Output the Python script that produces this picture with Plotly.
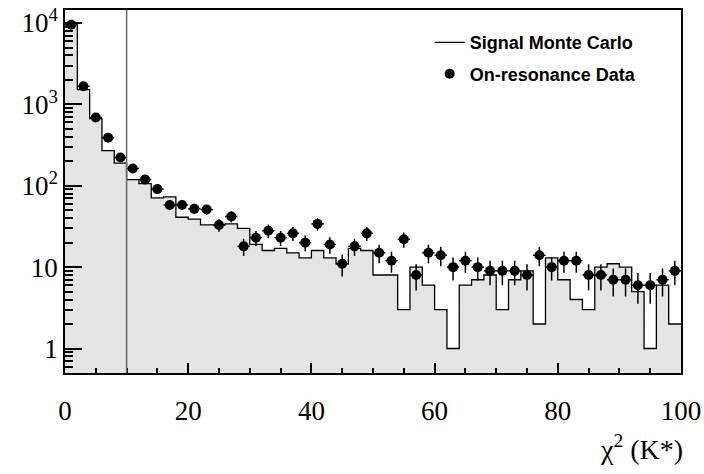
import numpy as np
import plotly.graph_objects as go

# chi^2(K*) histogram: 50 bins of width 2 from 0 to 100
bin_edges = list(range(0, 102, 2))
bin_centers = [e + 1 for e in bin_edges[:-1]]

# Signal Monte Carlo (normalised bin contents)
signal_mc = [9800, 1520, 670, 271, 190, 119, 106, 71, 73, 41,
             39, 33, 33, 34, 30, 19, 16, 17, 15, 13,
             16, 13, 11, 17, 16, 8, 8, 3, 10, 6,
             3, 1, 6, 7, 8, 3, 7, 9, 2, 13,
             7, 4, 3, 10, 11, 10, 5, 1, 6, 2]

# On-resonance data (event counts)
onres_data = [9500, 1670, 690, 390, 222, 163, 119, 91, 58, 58,
              52, 51, 33, 42, 18, 23, 28, 23, 26, 20,
              34, 19, 11, 18, 26, 15, 12, 22, 8, 15,
              14, 10, 12, 10, 9, 9, 9, 8, 14, 10,
              12, 12, 8, 8, 7, 7, 6, 6, 7, 9]

CUT_VALUE = 10

y_tickvals = [1, 10, 100, 1000, 10000]
y_ticktext = ["1", "10", "10<sup>2</sup>", "10<sup>3</sup>", "10<sup>4</sup>"]

Y_RANGE = [np.log10(0.5), 4.16]

data_err = [float(np.sqrt(v)) for v in onres_data]
step_y = signal_mc + [signal_mc[-1]]

fig = go.Figure()

# shaded MC histogram body
fig.add_trace(go.Bar(
    x=bin_centers, y=signal_mc, width=2,
    marker=dict(color="#e4e4e4", line=dict(width=0)),
    showlegend=False, hoverinfo="skip",
))

# MC histogram outline
fig.add_trace(go.Scatter(
    x=bin_edges, y=step_y, mode="lines",
    line=dict(shape="hv", color="black", width=1.3),
    name="Signal Monte Carlo", legendgroup="mc",
))

# data points with Poisson errors
fig.add_trace(go.Scatter(
    x=bin_centers, y=onres_data, mode="markers",
    marker=dict(color="black", size=10),
    error_y=dict(type="data", array=data_err, color="black", thickness=1.5, width=0),
    error_x=dict(type="constant", value=1, color="black", thickness=1.5, width=0),
    name="On-resonance Data", legendgroup="data",
))

fig.add_vline(x=CUT_VALUE, line=dict(color="#666666", width=1.5), layer="above")

serif = "Liberation Serif"

fig.update_layout(
    width=704, height=474,
    margin=dict(l=65, r=23, t=10, b=100.5, autoexpand=False),
    paper_bgcolor="white", plot_bgcolor="white",
    bargap=0,
    showlegend=True,
    legend=dict(
        x=0.592, y=0.961, xanchor="left", yanchor="top",
        bgcolor="rgba(0,0,0,0)", borderwidth=0,
        font=dict(family="Liberation Sans", size=18, color="black", weight="bold"),
        traceorder="grouped", tracegroupgap=5,
    ),
    xaxis=dict(
        range=[0, 100], showgrid=False, zeroline=False,
        showline=True, linecolor="black", linewidth=1.5, mirror=True,
        dtick=20, ticks="inside", ticklen=10, tickwidth=1.5, tickcolor="black",
        minor=dict(dtick=5, ticks="inside", ticklen=5, tickwidth=1.5,
                   tickcolor="black"),
        tickfont=dict(family=serif, size=27, color="black"),
        ticklabelstandoff=13,
    ),
    yaxis=dict(
        type="log", range=Y_RANGE, showgrid=False, zeroline=False,
        showline=True, linecolor="black", linewidth=1.5, mirror=True,
        tickvals=y_tickvals, ticktext=y_ticktext,
        ticks="inside", ticklen=17, tickwidth=1.5, tickcolor="black",
        minor=dict(dtick="D1", ticks="inside", ticklen=8, tickwidth=1.5,
                   tickcolor="black"),
        tickfont=dict(family=serif, size=27, color="black"),
    ),
)

fig.add_annotation(
    text="χ<sup>2</sup> (K*)", xref="paper", yref="paper",
    x=1.007, y=-0.205, xanchor="right", yanchor="middle", showarrow=False,
    font=dict(family=serif, size=28, color="black"),
)

fig.write_html("out.html")
